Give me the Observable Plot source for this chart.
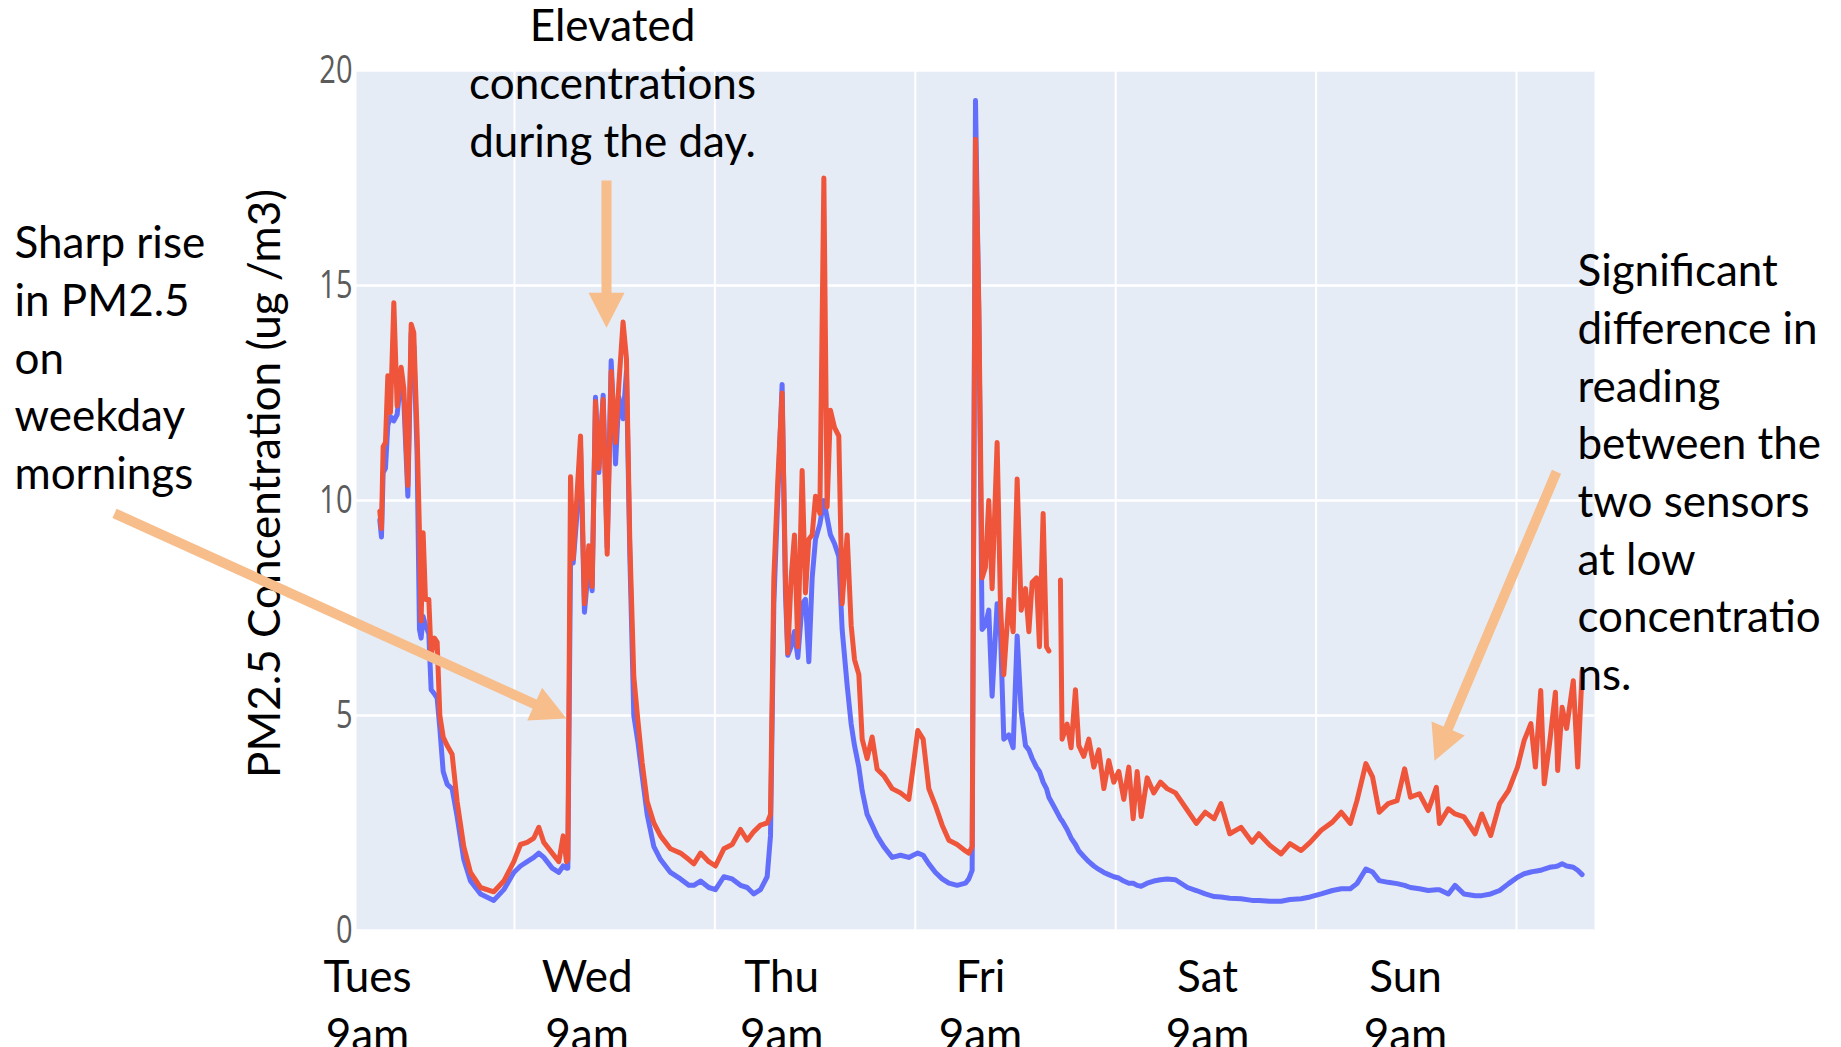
<!DOCTYPE html>
<html>
<head>
<meta charset="utf-8">
<script src="https://cdn.jsdelivr.net/npm/d3@7"></script>
<script src="https://cdn.jsdelivr.net/npm/@observablehq/plot@0.6"></script>
<style>
  html, body { margin: 0; padding: 0; background: #fff; overflow: hidden; }
</style>
</head>
<body>
<div id="chart"></div>
<script>
// ---------- data (hours since Tuesday 00:00) ----------
const hours = [
  7.87, 8.07, 8.27, 8.55, 8.83, 9.15, 9.55, 9.95, 10.43, 10.75, 11.23, 11.63, 11.94, 12.34, 12.62, 12.82, 13.06, 13.34, 13.74, 14.02, 14.42, 14.74, 15.06, 15.46, 15.94, 16.53, 17.13, 17.93, 18.73, 19.93, 21.52, 22.72, 23.92, 24.72, 25.52, 26.32, 26.91, 27.51, 28.51, 29.31, 29.83, 30.23,
  30.39, 30.71, 31.03, 31.43, 31.91, 32.38, 32.9, 33.3, 33.7, 34.1, 34.62, 35.1, 35.58, 36.1, 36.5, 37.0, 37.41, 37.81, 38.29, 38.77, 39.29, 39.89, 40.69, 41.49, 42.68, 43.88, 44.88, 45.48, 46.28, 47.27, 48.07, 49.07, 50.07, 51.07, 51.87, 52.66, 53.46, 54.26,
  54.66, 55.06, 55.54, 56.05, 56.45, 56.73, 57.13, 57.53, 57.93, 58.45, 58.85, 59.25, 59.65, 60.05, 60.57, 61.05, 61.44, 61.84, 62.32, 62.84, 63.24, 63.84, 64.32, 64.72, 65.24, 65.64, 66.23, 66.83, 67.43, 68.23, 69.23, 70.23, 71.22, 71.74, 72.3, 72.94, 73.62, 74.42, 75.22, 76.02, 77.01, 78.01, 78.41,
  78.81, 79.21, 79.61, 80.0, 80.4, 80.8, 81.2, 81.8, 82.2, 82.6, 83.2, 83.72, 84.2, 84.68, 85.2, 85.6, 86.0, 86.51, 86.87, 87.31, 87.71, 88.0, 88.7, 89.38, 89.58, 90.18, 90.66, 91.18, 91.58, 92.18, 92.78, 93.38, 93.98, 94.58, 95.17, 95.77, 96.37, 96.97, 97.57, 98.09, 98.57, 99.05, 99.77, 100.56, 101.36, 102.16, 103.16,
  104.6, 105.66, 106.72, 107.79, 108.6, 109.66, 111.0, 112.33, 113.14, 114.47, 115.81, 116.87, 118.21, 119.28, 120.61, 121.95, 123.02, 124.09, 124.89, 125.96, 126.76, 127.56, 128.63, 129.7, 130.6, 131.3, 132.37, 133.43, 134.4, 134.77, 135.84, 136.64, 137.71, 139.04, 139.84, 140.91, 141.98, 143.05, 144.12, 144.92, 145.72, 146.26, 146.9, 147.32, 147.96, 148.66, 148.93, 149.46, 150.0, 150.8, 151.33, 151.86
];

// sensor drawn in blue (lower reading)
const sensorBlue = [
  9.55, 9.15, 10.65, 10.75, 11.75, 11.95, 11.85, 12.0, 12.9, 12.3, 10.1, 13.9, 13.6, 11.05, 7.0, 6.8, 7.3, 7.1, 6.9, 5.6, 5.5, 5.4, 4.7, 3.7, 3.4, 3.3, 2.65, 1.65, 1.15, 0.85, 0.7, 0.95, 1.35, 1.5, 1.6, 1.7, 1.8, 1.7, 1.45, 1.35, 1.5, 1.45,
  1.45, 8.6, 8.55, 9.55, 11.25, 7.4, 8.55, 7.9, 12.4, 10.65, 12.45, 8.9, 13.25, 10.85, 12.4, 11.9, 13.0, 8.75, 5.0, 4.4, 3.6, 2.7, 1.95, 1.65, 1.35, 1.2, 1.05, 1.05, 1.15, 1.0, 0.95, 1.25, 1.2, 1.05, 1.0, 0.85, 0.95, 1.25,
  2.2, 7.6, 10.1, 12.7, 7.85, 6.4, 6.6, 6.95, 6.35, 7.6, 7.7, 6.25, 8.2, 9.1, 9.45, 10.0, 9.6, 9.2, 9.0, 8.7, 7.0, 5.7, 4.8, 4.3, 3.8, 3.25, 2.7, 2.45, 2.2, 1.95, 1.7, 1.75, 1.7, 1.75, 1.8, 1.75, 1.55, 1.35, 1.2, 1.1, 1.05, 1.1, 1.2,
  1.4, 19.3, 14.25, 7.0, 7.1, 7.45, 5.45, 7.6, 6.95, 4.45, 4.55, 4.25, 6.85, 5.1, 4.3, 4.2, 4.0, 3.8, 3.7, 3.45, 3.3, 3.1, 2.85, 2.6, 2.55, 2.35, 2.15, 2.0, 1.85, 1.72, 1.6, 1.5, 1.42, 1.35, 1.3, 1.25, 1.22, 1.15, 1.1, 1.1, 1.05, 1.03, 1.1, 1.15, 1.18, 1.2, 1.18,
  1.0, 0.93, 0.85, 0.79, 0.78, 0.75, 0.74, 0.7, 0.7, 0.68, 0.68, 0.72, 0.74, 0.78, 0.85, 0.93, 0.97, 0.97, 1.09, 1.43, 1.36, 1.16, 1.12, 1.09, 1.05, 1.0, 0.97, 0.93, 0.95, 0.95, 0.85, 1.05, 0.85, 0.81, 0.81, 0.85, 0.93, 1.09, 1.24, 1.32, 1.36, 1.38, 1.4, 1.43, 1.47, 1.49, 1.5, 1.55, 1.5, 1.47, 1.4, 1.3
];

// sensor drawn in red (higher reading); null = missing reading
const sensorRed = [
  9.75, 9.35, 11.25, 11.35, 12.9, 12.05, 14.6, 12.2, 13.1, 12.6, 10.35, 14.1, 13.9, 11.55, 9.25, 7.2, 9.25, 7.7, 7.7, 6.4, 6.8, 6.7, 5.0, 4.5, 4.3, 4.1, 3.0, 1.95, 1.35, 1.0, 0.9, 1.15, 1.6, 2.0, 2.05, 2.15, 2.4, 2.05, 1.8, 1.6, 2.2, 1.6,
  1.65, 10.55, 8.65, 9.95, 11.5, 7.6, 8.95, 8.0, 12.3, 10.75, 12.35, 8.75, 13.0, 11.35, 12.7, 14.15, 13.3, 9.05, 5.9, 4.9, 3.9, 3.0, 2.5, 2.2, 1.9, 1.8, 1.65, 1.55, 1.8, 1.6, 1.5, 1.9, 2.0, 2.35, 2.1, 2.3, 2.45, 2.5,
  2.7, 8.2, 10.5, 12.5, 8.2, 6.45, 8.2, 9.2, 6.6, 10.7, 7.85, 9.1, 9.2, 10.1, 9.7, 17.5, 9.85, 12.1, 11.7, 11.5, 7.6, 9.2, 7.1, 6.3, 5.95, 4.45, 4.0, 4.5, 3.75, 3.6, 3.3, 3.2, 3.05, 3.8, 4.65, 4.45, 3.3, 2.9, 2.45, 2.1, 2.0, 1.85, 1.8,
  1.95, 18.4, 14.5, 8.2, 8.45, 10.0, 7.95, 11.35, 7.6, 5.95, 7.7, 6.95, 10.5, 7.45, 7.95, 6.95, 8.1, 8.2, 6.6, 9.7, 6.6, 6.5, null, 8.15, 4.45, 4.8, 4.25, 5.6, 4.3, 4.05, 4.45, 3.8, 4.2, 3.3, 3.95, 3.45, 3.7, 3.05, 3.8, 2.6, 3.7, 2.65, 3.55, 3.2, 3.45, 3.3, 3.2,
  2.79, 2.49, 2.75, 2.6, 2.95, 2.25, 2.4, 2.05, 2.25, 1.98, 1.78, 2.02, 1.86, 2.05, 2.33, 2.52, 2.75, 2.49, 3.02, 3.88, 3.57, 2.75, 2.95, 3.02, 3.76, 3.1, 3.18, 2.79, 3.33, 2.49, 2.83, 2.71, 2.64, 2.25, 2.71, 2.21, 2.95, 3.26, 3.8, 4.42, 4.81, 3.8, 5.58, 3.41, 4.35, 5.54, 3.72, 5.19, 4.7, 5.81, 3.8, 6.04
];

const xDomain = [5.08, 153.34];
const yDomain = [0, 20];
const midnightHours = [24, 48, 72, 96, 120, 144];
const yTicks = [0, 5, 10, 15, 20];
const xLabelHours = [6.4, 32.7, 56.0, 79.8, 107.0, 130.7];
const xLabels = ["Tues\n9am", "Wed\n9am", "Thu\n9am", "Fri\n9am", "Sat\n9am", "Sun\n9am"];
const yTitle = "PM2.5 Concentration (ug /m3)";

const noteTexts = [
  "Sharp rise\nin PM2.5\non\nweekday\nmornings",
  "Elevated\nconcentrations\nduring the day.",
  "Significant\ndifference in\nreading\nbetween the\ntwo sensors\nat low\nconcentratio\nns."
];
const noteHours = [-35.88, 35.74, 151.3];
const noteValues = [16.58, 21.63, 15.93];
const noteAnchors = ["start", "middle", "start"];

const arrowFromHours = [-23.9, 35.02, 148.79];
const arrowFromValues = [9.70, 17.44, 10.67];
const arrowToHours = [30.23, 35.02, 134.18];
const arrowToValues = [4.93, 14.02, 3.95];

// ---------- build tables ----------
const rows = hours.map((h, i) => ({hour: h, blue: sensorBlue[i], red: sensorRed[i]}));
const notes = noteTexts.map((t, i) => ({text: t, hour: noteHours[i], value: noteValues[i], anchor: noteAnchors[i]}));
const arrows = arrowFromHours.map((_, i) => ({
  x1: arrowFromHours[i], y1: arrowFromValues[i], x2: arrowToHours[i], y2: arrowToValues[i]
}));

const ORANGE = "#F7BD8A";
const NOTE_FONT = 44;
const LINE_H = 1.31;

function triangleHead(color, context) {
  const doc = (context && context.document) || document;
  const ns = "http://www.w3.org/2000/svg";
  const m = doc.createElementNS(ns, "marker");
  m.setAttribute("viewBox", "-37 -20 38 40");
  m.setAttribute("markerWidth", 38);
  m.setAttribute("markerHeight", 40);
  m.setAttribute("markerUnits", "userSpaceOnUse");
  m.setAttribute("orient", "auto");
  m.setAttribute("refX", 0);
  m.setAttribute("refY", 0);
  const p = doc.createElementNS(ns, "path");
  p.setAttribute("d", "M-35,-18L0,0L-35,18Z");
  p.setAttribute("fill", color);
  p.setAttribute("stroke", "none");
  m.appendChild(p);
  return m;
}

const chart = Plot.plot({
  width: 1841,
  height: 1047,
  marginTop: 70,
  marginBottom: 117,
  marginLeft: 356,
  marginRight: 247,
  style: {fontFamily: "Lato, 'Open Sans', sans-serif", background: "#fff", color: "#000", overflow: "visible"},
  x: {domain: xDomain, axis: null},
  y: {domain: yDomain},
  marks: [
    Plot.frame({fill: "#E5ECF6", stroke: "none"}),
    Plot.ruleX(midnightHours, {stroke: "#fff", strokeWidth: 2}),
    Plot.ruleY(yTicks, {stroke: "#fff", strokeWidth: 2.5}),
    Plot.axisY(yTicks, {tickSize: 0, tickPadding: 4, fontSize: 29, fontFamily: "'Open Sans', sans-serif", color: "#5b5b5b", label: null}),
    Plot.text([yTitle], {frameAnchor: "left", textAnchor: "middle", rotate: -90, dx: -91, dy: -17, fontSize: NOTE_FONT, fill: "#000"}),
    Plot.line(rows, {x: "hour", y: "blue", stroke: "#636EFA", strokeWidth: 5}),
    Plot.line(rows, {x: "hour", y: "red", stroke: "#EF553B", strokeWidth: 5}),
    Plot.text(xLabelHours, {x: d => d, text: (d, i) => xLabels[i], frameAnchor: "bottom", lineAnchor: "top", dy: 21, fontSize: NOTE_FONT, lineHeight: LINE_H, fill: "#000"}),
    Plot.text(notes.filter(d => d.anchor === "start"), {x: "hour", y: "value", text: "text", textAnchor: "start", lineAnchor: "top", fontSize: NOTE_FONT, lineHeight: LINE_H, fill: "#000"}),
    Plot.text(notes.filter(d => d.anchor === "middle"), {x: "hour", y: "value", text: "text", textAnchor: "middle", lineAnchor: "top", fontSize: NOTE_FONT, lineHeight: LINE_H, fill: "#000"}),
    Plot.arrow(arrows, {x1: "x1", y1: "y1", x2: "x2", y2: "y2", stroke: ORANGE, strokeWidth: 10, headLength: 0, insetEnd: 28, strokeLinecap: "butt"}),
    Plot.link(arrows, {x1: "x1", y1: "y1", x2: "x2", y2: "y2", stroke: ORANGE, strokeOpacity: 0, markerEnd: triangleHead})
  ]
});

// the reference's tick digits are drawn taller than wide
chart.querySelectorAll('g[aria-label="y-axis tick label"] text').forEach(t => {
  const tr = t.getAttribute("transform") || "";
  t.setAttribute("transform", tr + " scale(1,1.3)");
});

document.getElementById("chart").appendChild(chart);
</script>
</body>
</html>
